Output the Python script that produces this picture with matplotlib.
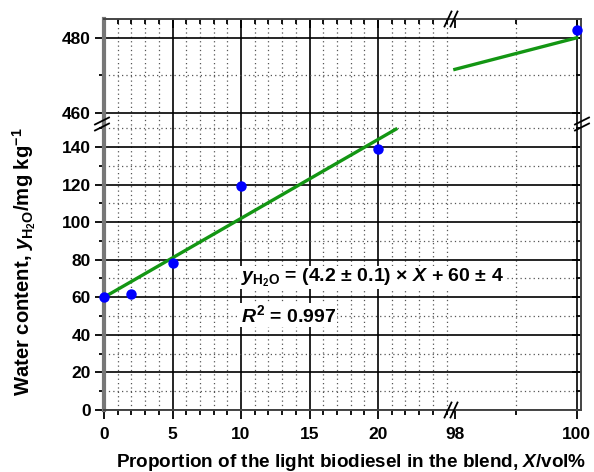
import numpy as np
import matplotlib
matplotlib.use("Agg")
import matplotlib.pyplot as plt
from matplotlib.lines import Line2D
from matplotlib.ticker import MultipleLocator, FixedLocator

plt.rcParams["font.family"] = "Liberation Sans"
plt.rcParams["font.weight"] = "bold"
plt.rcParams["mathtext.fontset"] = "custom"
plt.rcParams["mathtext.rm"] = "Liberation Sans:bold"
plt.rcParams["mathtext.it"] = "Liberation Sans:italic:bold"
plt.rcParams["mathtext.bf"] = "Liberation Sans:bold"

# measured water content vs. biodiesel fraction
x_vol = [0, 2, 5, 10, 20, 100]
y_water = [60, 62, 78, 119, 139, 482]

# linear fit reported on the chart
slope, intercept = 4.2, 60
fit_low = [0, 21.3]
fit_high = [98, 100]

x_left_ticks = [0, 5, 10, 15, 20]
x_right_ticks = [98, 100]
y_low_ticks = [0, 20, 40, 60, 80, 100, 120, 140]
y_high_ticks = [460, 480]

FS = 12.5
W, H = 594, 472
fig = plt.figure(figsize=(W / 100, H / 100), dpi=100)
gs = fig.add_gridspec(2, 2, width_ratios=[346, 131], height_ratios=[106, 285],
                      left=104 / W, right=581 / W, bottom=1 - 410 / H, top=1 - 19 / H,
                      wspace=0, hspace=0)
ax_tl = fig.add_subplot(gs[0, 0])
ax_tr = fig.add_subplot(gs[0, 1])
ax_bl = fig.add_subplot(gs[1, 0])
ax_br = fig.add_subplot(gs[1, 1])

for ax in (ax_tl, ax_bl):
    ax.set_xlim(0, 25.25)
    ax.xaxis.set_major_locator(FixedLocator(x_left_ticks))
    ax.xaxis.set_minor_locator(MultipleLocator(1))
for ax in (ax_tr, ax_br):
    ax.set_xlim(97.92, 100.07)
    ax.xaxis.set_major_locator(FixedLocator(x_right_ticks))
    ax.xaxis.set_minor_locator(FixedLocator([99]))
for ax in (ax_bl, ax_br):
    ax.set_ylim(0, 151.7)
    ax.yaxis.set_major_locator(FixedLocator(y_low_ticks))
    ax.yaxis.set_minor_locator(MultipleLocator(10))
for ax in (ax_tl, ax_tr):
    ax.set_ylim(456.8, 485)
    ax.yaxis.set_major_locator(FixedLocator(y_high_ticks))
    ax.yaxis.set_minor_locator(FixedLocator([470]))

for ax in (ax_tl, ax_tr, ax_bl, ax_br):
    ax.set_axisbelow(True)
    ax.grid(which="major", color="black", lw=1.2, ls="-")
    ax.grid(which="minor", color="#555555", lw=0.9, ls=(0, (1, 2.5)))
    for s in ax.spines.values():
        s.set_color("#444444")
        s.set_linewidth(1.4)
    ax.tick_params(which="both", labelsize=FS, width=1.3, color="black",
                   left=False, right=False, top=False, bottom=False,
                   labelleft=False, labelbottom=False)
    ax.tick_params(which="major", length=6.5)
    ax.tick_params(which="minor", length=3.5)

# hide inner spines where the axes meet
ax_tl.spines["right"].set_visible(False)
ax_tl.spines["bottom"].set_visible(False)
ax_tr.spines["left"].set_visible(False)
ax_tr.spines["bottom"].set_visible(False)
ax_bl.spines["right"].set_visible(False)
ax_bl.spines["top"].set_visible(False)
ax_br.spines["left"].set_visible(False)
ax_br.spines["top"].set_visible(False)
for ax in (ax_tl, ax_bl):
    ax.spines["left"].set_color("#777777")
    ax.spines["left"].set_linewidth(3)

# outer ticks on the left/bottom, inner ticks on the top/right
for ax in (ax_tl, ax_bl):
    ax.tick_params(which="both", axis="y", left=True, direction="out",
                   labelleft=True, pad=3)
for ax in (ax_bl, ax_br):
    ax.tick_params(which="both", axis="x", bottom=True, direction="out",
                   labelbottom=True, pad=6)
for ax in (ax_tl, ax_tr):
    ax.tick_params(which="both", axis="x", top=True, direction="in")
for ax in (ax_tr, ax_br):
    ax.tick_params(which="both", axis="y", right=True, direction="in")
for ax in (ax_tr, ax_br):
    ax.get_xgridlines()[0].set_visible(False)

green = "#139613"
fit_x1 = np.array(fit_low)
fit_x2 = np.array(fit_high)
ax_bl.plot(fit_x1, slope * fit_x1 + intercept, color=green, lw=2.4, zorder=3)
ax_tr.plot(fit_x2, slope * fit_x2 + intercept, color=green, lw=2.4, zorder=3,
           clip_on=False)

# each panel only shows the points that fall inside it
xv, yv = np.array(x_vol), np.array(y_water)
for ax in (ax_tl, ax_tr, ax_bl, ax_br):
    lo, hi = ax.get_xlim()
    ylo, yhi = ax.get_ylim()
    keep = (xv >= lo - 0.5) & (xv <= hi + 0.5) & (yv >= ylo - 3) & (yv <= yhi + 3)
    ax.plot(xv[keep], yv[keep], "o", color="#0000ff", ms=7.5, mec="none",
            zorder=4, clip_on=False)

# equation drawn at figure level so it sits above the right-hand panel
box = dict(facecolor="white", edgecolor="none", pad=0.6)
fig.text(10.0, 70.5, r"$y_{\mathrm{H_2O}}$ = (4.2 ± 0.1) × $X$ + 60 ± 4",
         transform=ax_bl.transData, fontsize=14, va="center", ha="left",
         bbox=box, zorder=5)
fig.text(10.0, 50.5, r"$R^2$ = 0.997",
         transform=ax_bl.transData, fontsize=14, va="center", ha="left",
         bbox=box, zorder=5)

fig.text(351 / W, 1 - 467 / H,
         r"Proportion of the light biodiesel in the blend, $X$/vol%",
         fontsize=13.6, ha="center", va="baseline")
fig.text(24 / W, 1 - 262 / H,
         r"Water content, $y_{\mathrm{H_2O}}$/mg kg$^{-1}$",
         fontsize=14.6, ha="center", va="center", rotation=90)


def break_mark(cx, cy, dx, dy, sep_x, sep_y):
    # pair of slanted strokes marking an axis break (pixel coords, origin top-left)
    for k in (-0.5, 0.5):
        x0, y0 = cx + k * sep_x, cy + k * sep_y
        fig.add_artist(Line2D([(x0 - dx) / W, (x0 + dx) / W],
                              [1 - (y0 + dy) / H, 1 - (y0 - dy) / H],
                              color="black", lw=1.3))


break_mark(451, 410, 3.5, 7.5, 6, 0)
break_mark(451, 19, 3.5, 7.5, 6, 0)
break_mark(102, 124, 7, 3.5, 0, 6)
break_mark(582, 124, 7, 3.5, 0, 6)

fig.savefig("out.png", dpi=100)
